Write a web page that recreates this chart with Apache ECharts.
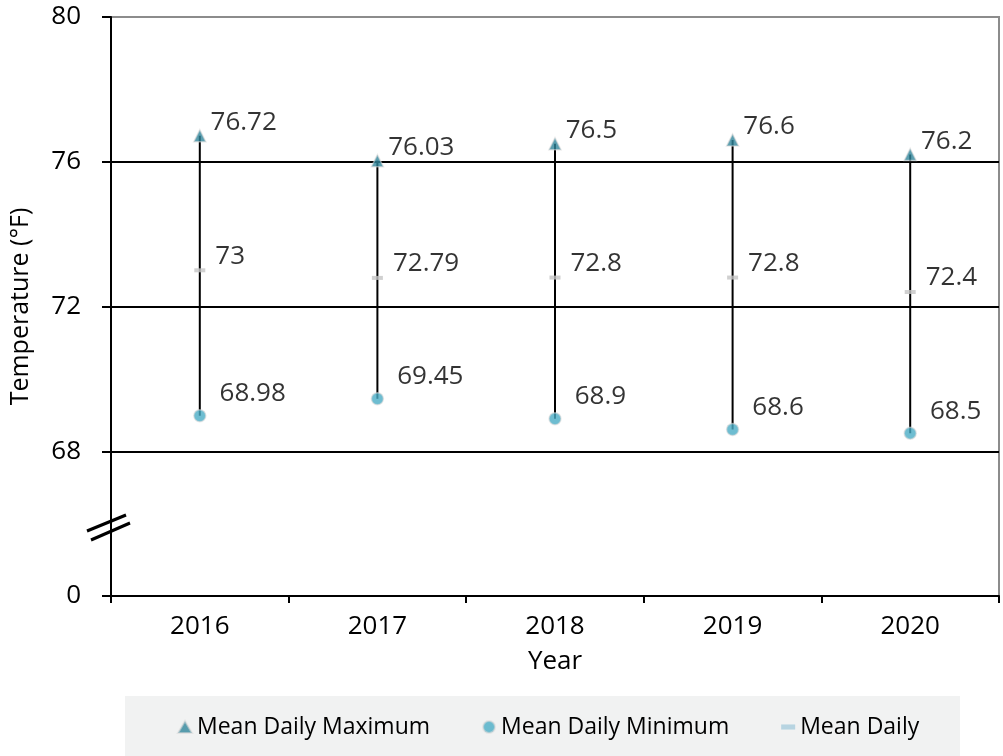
<!DOCTYPE html>
<html>
<head>
  <meta charset="utf-8" />
  <title>Temperature</title>
  <script src="https://cdn.jsdelivr.net/npm/echarts@6/dist/echarts.min.js"></script>
  <style>
    html, body {
      margin: 0;
      padding: 0;
      background: #fff;
    }
    #main {
      width: 1003px;
      height: 756px;
    }
  </style>
</head>
<body>
  <div id="main"></div>

  <script type="text/javascript">
    const years = ['2016', '2017', '2018', '2019', '2020'];
    const meanMax = [76.72, 76.03, 76.5, 76.6, 76.2];
    const meanDaily = [73, 72.79, 72.8, 72.8, 72.4];
    const meanMin = [68.98, 69.45, 68.9, 68.6, 68.5];
    // the axis is broken: the bottom tick (64) is shown as 0
    const axisFloor = 64;

    const font = '"Open Sans", "Noto Sans", sans-serif';
    const chart = echarts.init(document.getElementById('main'));

    const labelBase = {
      show: true,
      position: 'right',
      distance: 0,
      color: '#000',
      fontSize: 26,
      fontFamily: font
    };

    const option = {
      animation: false,
      textStyle: { fontFamily: font },
      grid: {
        left: 111,
        right: 4,
        top: 17,
        bottom: 160,
        show: true,
        borderColor: '#8c8c8c',
        borderWidth: 2
      },
      legend: {
        left: 177,
        top: 714,
        padding: 0,
        itemGap: 52,
        itemWidth: 14,
        itemHeight: 12,
        textStyle: { fontSize: 23, color: '#000', fontFamily: font, lineHeight: 26 },
        data: [
          { name: 'Mean Daily Maximum', icon: 'triangle' },
          { name: 'Mean Daily Minimum', icon: 'circle' },
          { name: 'Mean Daily', icon: 'path://M0,0h11v4h-11z', itemStyle: { color: '#a9ccdc' } }
        ]
      },
      graphic: [
        {
          type: 'rect',
          z: -1,
          shape: { x: 125, y: 696, width: 835, height: 60 },
          style: { fill: '#f1f2f2' }
        },
        {
          type: 'line',
          z: 10,
          shape: { x1: 87, y1: 531, x2: 126, y2: 515 },
          style: { stroke: '#000', lineWidth: 3 }
        },
        {
          type: 'line',
          z: 10,
          shape: { x1: 91, y1: 540, x2: 130, y2: 523 },
          style: { stroke: '#000', lineWidth: 3 }
        }
      ],
      xAxis: {
        type: 'category',
        data: years,
        name: 'Year',
        nameLocation: 'middle',
        nameGap: 53,
        nameTextStyle: { fontSize: 26, color: '#000' },
        axisLine: { lineStyle: { color: '#000', width: 2 } },
        axisTick: { show: true, length: 7, lineStyle: { color: '#000', width: 2 } },
        axisLabel: { fontSize: 26, color: '#000', margin: 18 },
        splitLine: { show: false }
      },
      yAxis: {
        type: 'value',
        min: axisFloor,
        max: 80,
        interval: 4,
        name: 'Temperature (°F)',
        nameLocation: 'middle',
        nameGap: 78,
        nameTextStyle: { fontSize: 25, color: '#000' },
        axisLine: { show: true, lineStyle: { color: '#000', width: 2 } },
        axisTick: { show: true, length: 9, lineStyle: { color: '#000', width: 2 } },
        axisLabel: {
          fontSize: 26,
          color: '#000',
          margin: 30,
          formatter: v => (v === axisFloor ? '0' : String(v))
        },
        splitLine: {
          show: true,
          lineStyle: { color: ['#000', '#000', '#000', '#000', '#8c8c8c'], width: 2 }
        }
      },
      series: [
        {
          name: 'range',
          type: 'custom',
          z: 1,
          data: years.map((y, i) => [i, meanMin[i], meanMax[i]]),
          encode: { x: 0, y: [1, 2] },
          renderItem: (params, api) => {
            const lo = api.coord([api.value(0), api.value(1)]);
            const hi = api.coord([api.value(0), api.value(2)]);
            return {
              type: 'line',
              shape: { x1: lo[0], y1: lo[1], x2: hi[0], y2: hi[1] },
              style: { stroke: '#000', lineWidth: 2 }
            };
          }
        },
        {
          name: 'Mean Daily Maximum',
          type: 'scatter',
          z: 3,
          symbol: 'triangle',
          symbolSize: 12,
          itemStyle: { color: '#31869b', borderColor: 'rgba(215,215,215,0.7)', borderWidth: 1.5 },
          label: Object.assign({}, labelBase, { offset: [4, -13] }),
          data: meanMax
        },
        {
          name: 'Mean Daily Minimum',
          type: 'scatter',
          z: 3,
          symbol: 'circle',
          symbolSize: 12,
          itemStyle: { color: '#4aacc6', borderColor: 'rgba(215,215,215,0.7)', borderWidth: 1.5 },
          label: Object.assign({}, labelBase, { offset: [13, -22] }),
          data: meanMin
        },
        {
          name: 'Mean Daily',
          type: 'scatter',
          z: 3,
          symbol: 'rect',
          symbolSize: [11, 4],
          itemStyle: { color: '#c4c4c4' },
          label: Object.assign({}, labelBase, { offset: [10, -14] }),
          data: meanDaily
        }
      ]
    };

    chart.setOption(option);
  </script>
</body>
</html>
